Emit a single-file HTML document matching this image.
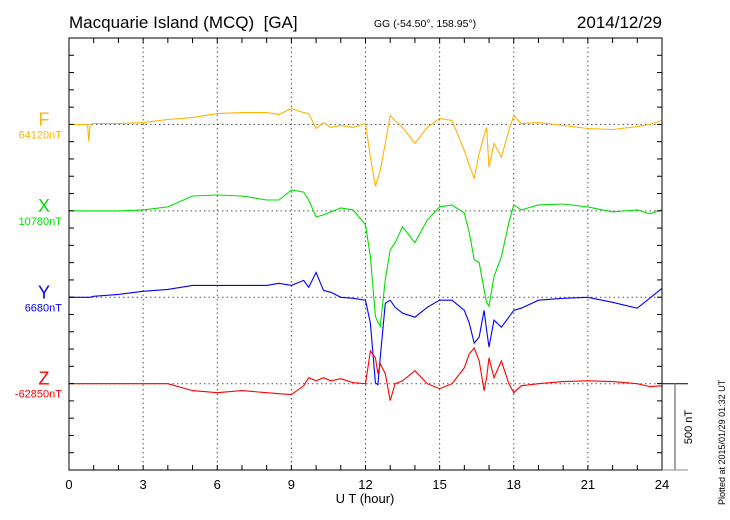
<!DOCTYPE html>
<html><head><meta charset="utf-8"><style>
body{margin:0;background:#fff;}
svg{display:block;font-family:"Liberation Sans",sans-serif;}
</style></head><body>
<svg id="chart" width="730" height="520">
<text x="69" y="28" font-size="17">Macquarie Island (MCQ)&#160; [GA]</text>
<text x="425" y="27" font-size="10.5" text-anchor="middle">GG (-54.50°, 158.95°)</text>
<text x="662" y="28" font-size="17" text-anchor="end">2014/12/29</text>
<text x="365" y="503" font-size="13" text-anchor="middle">U T (hour)</text>
<text transform="translate(725,505) rotate(-90)" font-size="9">Plotted at 2015/01/29 01:32 UT</text>
<g id="grid"></g><g id="series"></g><g id="axes"></g>
</svg>
<script>
const times=[0,0.5,0.75,0.8,0.85,1,2,3,4,5,6,7,8,8.5,9,9.5,9.7,10,10.3,10.6,11,11.5,12,12.2,12.4,12.5,12.6,12.8,13,13.2,13.5,14,14.5,15,15.5,16,16.2,16.4,16.6,16.8,16.9,17,17.2,17.5,17.8,18,18.3,19,20,21,22,23,23.5,24];
const fValues=[0,0,0,-98,0,6,6,11,29,40,63,69,69,58,92,69,63,-23,11,-17,-6,-17,6,-190,-357,-311,-265,-109,52,23,-17,-109,-17,35,23,-150,-236,-311,-167,-63,-17,-247,-109,-190,-35,52,6,11,-6,-23,-29,-12,0,23];
const xValues=[0,0,0,0,0,0,0,6,23,86,92,86,63,63,121,109,63,-35,-23,-6,17,6,-81,-265,-610,-644,-667,-397,-225,-184,-92,-184,-52,23,35,-12,-127,-282,-299,-455,-529,-552,-380,-265,-69,35,6,35,40,23,-6,6,-17,6];
const yValues=[0,0,0,0,0,6,17,35,46,69,69,69,69,81,69,98,58,144,40,29,0,-6,-17,-150,-495,-506,-345,-35,-17,-58,-92,-115,-58,-17,-17,-75,-150,-265,-230,-75,-190,-288,-132,-173,-115,-75,-63,-17,-6,0,-29,-63,-6,52];
const zValues=[0,0,0,0,0,0,0,0,0,-40,-52,-40,-52,-58,-63,-12,35,17,35,17,29,6,0,190,150,58,115,58,-98,0,17,75,0,-29,0,92,173,207,132,-40,35,150,35,132,0,-52,-12,0,12,17,12,0,-17,-12];
const xTickLabels=["0","3","6","9","12","15","18","21","24"];
const seriesNames=["F","X","Y","Z"];
const baseLabels=["64120nT","10780nT","6680nT","-62850nT"];
const colors=["#ffb400","#00e000","#0000ff","#ff0000"];
const L=69,R=662,T=38,B=470,base0=124.5,gap=86.4,pxPerNT=86.4/500;
const sx=h=>L+(R-L)*h/24;
const sy=(i,v)=>base0+i*gap-v*pxPerNT;
const NS="http://www.w3.org/2000/svg";
function mk(tag,attrs,parent){const e=document.createElementNS(NS,tag);for(const k in attrs)e.setAttribute(k,attrs[k]);document.getElementById(parent).appendChild(e);return e;}
for(let h=3;h<24;h+=3){const e=mk('line',{x1:sx(h),x2:sx(h),y1:T,y2:B,stroke:'#555','stroke-dasharray':'1.5,3','stroke-width':1},'grid');

}
for(let i=0;i<4;i++){const e=mk('line',{x1:L,x2:R,y1:sy(i,0),y2:sy(i,0),stroke:'#555','stroke-dasharray':'1.5,3','stroke-width':1},'grid');

}
const all=[fValues,xValues,yValues,zValues];
for(let i=0;i<4;i++){
 const d=times.map((t,j)=>(j?'L':'M')+sx(t).toFixed(1)+','+sy(i,all[i][j]).toFixed(1)).join('');
 const p=mk('path',{d:d,fill:'none',stroke:colors[i],'stroke-width':1.1},'series');
 
 
 const t1=mk('text',{x:44,y:sy(i,0)+1,'font-size':18,fill:colors[i],'text-anchor':'middle'},'axes');t1.textContent=seriesNames[i];
 
 
 const t2=mk('text',{x:62,y:sy(i,0)+14,'font-size':11,fill:colors[i],'text-anchor':'end'},'axes');t2.textContent=baseLabels[i];
 
 
}
const fr=mk('rect',{x:L,y:T,width:R-L,height:B-T,fill:'none',stroke:'#000','stroke-width':1},'axes');


for(let k=1;k<25;k++){const y=T+(B-T)*k/25;
 const a=mk('line',{x1:L,x2:L+5,y1:y,y2:y,stroke:'#000'},'axes');
 
 
 const b=mk('line',{x1:R-5,x2:R,y1:y,y2:y,stroke:'#000'},'axes');
 
 }
for(let h=1;h<24;h++){
 const a=mk('line',{x1:sx(h),x2:sx(h),y1:T,y2:T+5,stroke:'#000'},'axes');
 
 
 const b=mk('line',{x1:sx(h),x2:sx(h),y1:B-5,y2:B,stroke:'#000'},'axes');
 
 }
xTickLabels.forEach((s,k)=>{const t=mk('text',{x:sx(k*3),y:489,'font-size':13,'text-anchor':'middle'},'axes');t.textContent=s;
 
 });
const s1=mk('line',{x1:R,x2:688,y1:sy(3,0),y2:sy(3,0),stroke:'#000'},'axes');


const s2=mk('line',{x1:675,x2:675,y1:sy(3,0),y2:B,stroke:'#888','stroke-width':1.5},'axes');


const s3=mk('line',{x1:R,x2:688,y1:B,y2:B,stroke:'#888'},'axes');


const st=mk('text',{transform:'translate(692,427) rotate(-90)','font-size':11,'text-anchor':'middle'},'axes');st.textContent='500 nT';


</script>
</body></html>
